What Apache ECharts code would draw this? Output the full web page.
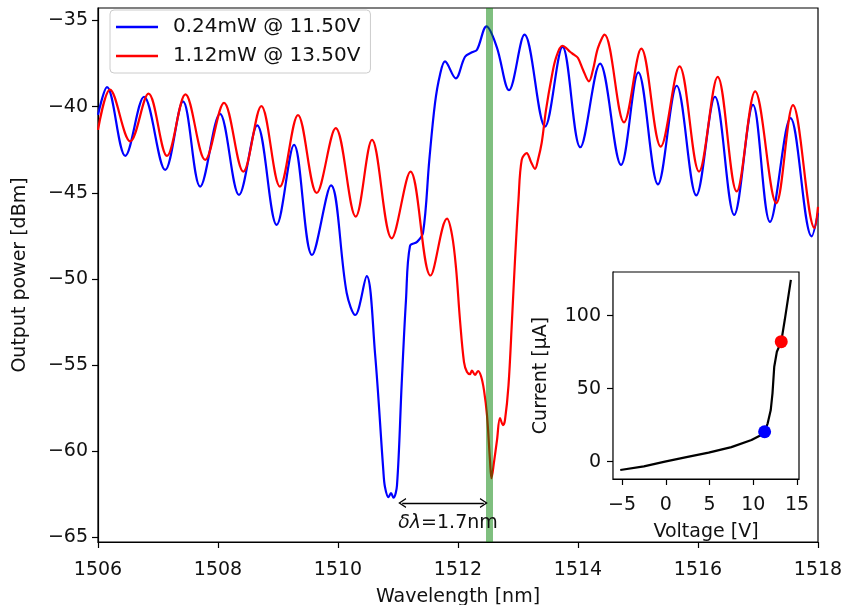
<!DOCTYPE html>
<html>
<head>
<meta charset="utf-8">
<script src="https://cdn.jsdelivr.net/npm/echarts@6/dist/echarts.min.js"></script>
<style>
  html, body { margin: 0; padding: 0; background: #fff; }
  #main { width: 844px; height: 605px; }
</style>
</head>
<body>
<div id="main"></div>
<script>
// transmission spectra
var blueWl = [1506.00, 1506.15, 1506.455, 1506.767, 1507.12, 1507.417, 1507.703, 1508.033, 1508.35, 1508.653, 1508.978, 1509.267, 1509.567, 1509.883, 1510.145, 1510.288, 1510.478, 1510.617, 1510.755, 1510.783, 1510.842, 1510.883, 1510.925, 1510.983, 1511.062, 1511.133, 1511.2, 1511.317, 1511.417, 1511.522, 1511.617, 1511.7, 1511.783, 1511.962, 1512.117, 1512.233, 1512.317, 1512.475, 1512.645, 1512.85, 1513.108, 1513.45, 1513.742, 1514.038, 1514.367, 1514.717, 1515.005, 1515.333, 1515.645, 1515.972, 1516.283, 1516.603, 1516.917, 1517.2, 1517.542, 1517.895, 1518.0];
var bluePower = [-40.48, -38.87, -42.86, -39.43, -43.67, -39.70, -44.64, -40.42, -45.12, -41.09, -46.86, -42.22, -48.61, -44.57, -50.81, -52.09, -49.84, -54.31, -61.09, -62.07, -62.66, -62.43, -62.69, -61.98, -56.04, -51.22, -48.08, -47.85, -47.33, -43.09, -39.80, -38.15, -37.38, -38.36, -37.11, -36.85, -36.70, -35.35, -36.53, -39.05, -35.83, -41.16, -36.53, -42.36, -37.51, -43.38, -38.01, -44.51, -38.79, -45.15, -39.43, -46.28, -39.90, -46.69, -40.67, -47.53, -46.18];

var redWl = [1506.0, 1506.2, 1506.538, 1506.842, 1507.15, 1507.458, 1507.787, 1508.1, 1508.422, 1508.722, 1509.033, 1509.333, 1509.645, 1509.962, 1510.295, 1510.567, 1510.895, 1511.208, 1511.542, 1511.817, 1511.9, 1511.967, 1512.033, 1512.1, 1512.15, 1512.2, 1512.233, 1512.283, 1512.333, 1512.383, 1512.433, 1512.483, 1512.533, 1512.558, 1512.6, 1512.65, 1512.7, 1512.75, 1512.783, 1512.842, 1512.9, 1512.95, 1513.008, 1513.062, 1513.145, 1513.217, 1513.283, 1513.333, 1513.395, 1513.467, 1513.562, 1513.633, 1513.738, 1513.8, 1513.867, 1513.933, 1514.0, 1514.083, 1514.183, 1514.25, 1514.333, 1514.442, 1514.767, 1515.055, 1515.38, 1515.692, 1516.017, 1516.328, 1516.645, 1516.953, 1517.305, 1517.583, 1517.942, 1518.0];
var redPower = [-41.35, -39.02, -42.02, -39.25, -42.86, -39.29, -43.09, -39.78, -43.77, -39.97, -44.64, -40.49, -45.01, -41.25, -46.38, -41.93, -47.64, -43.77, -49.80, -46.50, -47.44, -49.36, -52.38, -54.82, -55.40, -55.52, -55.31, -55.57, -55.34, -55.63, -56.45, -57.90, -60.51, -61.56, -60.63, -59.35, -58.07, -58.48, -58.19, -56.16, -52.38, -48.90, -45.41, -43.09, -42.70, -43.21, -43.61, -43.09, -42.10, -40.19, -38.27, -37.17, -36.47, -36.59, -36.82, -36.99, -37.18, -37.86, -38.54, -37.86, -36.59, -35.83, -40.91, -36.64, -42.32, -37.67, -43.77, -38.27, -44.92, -39.12, -45.60, -39.92, -47.04, -45.82];

// inset I-V curve
var ivVoltage = [-5.2, -2.5, -0.1, 2.5, 4.9, 7.5, 9.8, 10.8, 11.3, 11.65, 12.0, 12.2, 12.4, 12.7, 13.2, 13.6, 14.3];
var ivCurrent = [-5.7, -3.2, 0, 3.3, 6.2, 10, 14.9, 18, 20.5, 26.3, 35.4, 46.8, 65, 75.3, 82.2, 97, 124.5];
var opVoltage = [11.3, 13.2];
var opCurrent = [20.5, 82.2];

var seriesNames = ['0.24mW @ 11.50V', '1.12mW @ 13.50V'];
var markerWl = 1512.52;
var arrowWl = [1511.07, 1512.43];
var arrowPower = -63;

var mainXTicks = [1506, 1508, 1510, 1512, 1514, 1516, 1518];
var mainYTicks = [-65, -60, -55, -50, -45, -40, -35];
var insetXTicks = [-5, 0, 5, 10, 15];
var insetYTicks = [0, 50, 100];

function zip(a, b) {
  return a.map(function (v, i) { return [v, b[i]]; });
}
function minus(v) {
  return String(v).replace('-', '\u2212');
}

var font = 'DejaVu Sans';
var txt = '#111';
var fs = 19;

function axisCommon(ticks, margin) {
  return {
    axisLine: { show: true, onZero: false, lineStyle: { color: '#000', width: 1.2 } },
    axisTick: { show: true, length: 6, customValues: ticks, lineStyle: { color: '#000', width: 1.2 } },
    axisLabel: { customValues: ticks, margin: margin, color: txt, fontSize: fs, fontFamily: font, formatter: minus },
    splitLine: { show: false },
    nameTextStyle: { color: txt, fontSize: fs, fontFamily: font }
  };
}

var chart = echarts.init(document.getElementById('main'));

var option = {
  animation: false,
  backgroundColor: '#fff',
  grid: [
    { left: 98, top: 8, width: 720, height: 534, outerBoundsMode: 'none', show: true, borderColor: '#000', borderWidth: 1.2 },
    { left: 613, top: 272, width: 186, height: 207, outerBoundsMode: 'none', show: true, borderColor: '#000', borderWidth: 1.2, backgroundColor: '#fff', z: 5 }
  ],
  legend: {
    data: seriesNames,
    orient: 'vertical',
    left: 110,
    top: 10,
    padding: [7, 10, 7, 6],
    itemGap: 9,
    itemWidth: 42,
    itemHeight: 2.5,
    icon: 'rect',
    borderColor: '#ccc',
    borderWidth: 1,
    borderRadius: 4,
    backgroundColor: 'rgba(255,255,255,0.8)',
    textStyle: { color: txt, fontSize: 20, fontFamily: font, padding: [0, 0, 0, 10] }
  },
  xAxis: [
    Object.assign(axisCommon(mainXTicks, 19), {
      type: 'value', gridIndex: 0, min: 1506, max: 1518, interval: 2,
      name: 'Wavelength [nm]', nameLocation: 'middle', nameGap: 46
    }),
    Object.assign(axisCommon(insetXTicks, 17), {
      type: 'value', gridIndex: 1, min: -6.03, max: 15.23,
      name: 'Voltage [V]', nameLocation: 'middle', nameGap: 44
    })
  ],
  yAxis: [
    Object.assign(axisCommon(mainYTicks, 10), {
      type: 'value', gridIndex: 0, min: -65.26, max: -34.28,
      name: 'Output power [dBm]', nameLocation: 'middle', nameGap: 68
    }),
    Object.assign(axisCommon(insetYTicks, 12), {
      type: 'value', gridIndex: 1, min: -11.85, max: 129.9,
      name: 'Current [\u00b5A]', nameLocation: 'middle', nameGap: 62
    })
  ],
  series: [
    {
      // green marker line
      type: 'line', xAxisIndex: 0, yAxisIndex: 0, data: [], z: 1,
      markLine: {
        silent: true,
        symbol: 'none',
        label: { show: false },
        lineStyle: { color: 'rgba(0,128,0,0.5)', width: 7, type: 'solid' },
        data: [{ xAxis: markerWl }]
      }
    },
    {
      name: seriesNames[0], type: 'line', xAxisIndex: 0, yAxisIndex: 0,
      data: zip(blueWl, bluePower), smooth: 0.35, showSymbol: false, z: 3,
      lineStyle: { color: '#0000ff', width: 2.2 }, itemStyle: { color: '#0000ff' }
    },
    {
      name: seriesNames[1], type: 'line', xAxisIndex: 0, yAxisIndex: 0,
      data: zip(redWl, redPower), smooth: 0.35, showSymbol: false, z: 3,
      lineStyle: { color: '#ff0000', width: 2.2 }, itemStyle: { color: '#ff0000' }
    },
    {
      // wavelength shift arrow
      type: 'line', xAxisIndex: 0, yAxisIndex: 0, data: [], z: 4,
      markLine: {
        silent: true,
        symbol: ['path://M0,10 L5,0 L10,10 L8.8,10.6 L5,3 L1.2,10.6 Z', 'path://M0,10 L5,0 L10,10 L8.8,10.6 L5,3 L1.2,10.6 Z'],
        symbolSize: [10, 8],
        lineStyle: { color: '#000', width: 1.3, type: 'solid' },
        label: {
          show: true, position: 'insideMiddleBottom', distance: 11, offset: [5, 0],
          formatter: '{i|\u03b4\u03bb}=1.7nm',
          color: txt, fontSize: fs, fontFamily: font,
          rich: { i: { fontStyle: 'italic', fontSize: fs, fontFamily: font, color: txt } }
        },
        data: [[{ coord: [arrowWl[0], arrowPower] }, { coord: [arrowWl[1], arrowPower] }]]
      }
    },
    {
      type: 'line', xAxisIndex: 1, yAxisIndex: 1, z: 6,
      data: zip(ivVoltage, ivCurrent), showSymbol: false,
      lineStyle: { color: '#000', width: 2.2 }
    },
    {
      type: 'scatter', xAxisIndex: 1, yAxisIndex: 1, z: 7,
      data: [[opVoltage[0], opCurrent[0]]], symbolSize: 13,
      itemStyle: { color: '#0000ff', opacity: 1 }
    },
    {
      type: 'scatter', xAxisIndex: 1, yAxisIndex: 1, z: 7,
      data: [[opVoltage[1], opCurrent[1]]], symbolSize: 13,
      itemStyle: { color: '#ff0000', opacity: 1 }
    }
  ]
};

chart.setOption(option);
</script>
</body>
</html>
